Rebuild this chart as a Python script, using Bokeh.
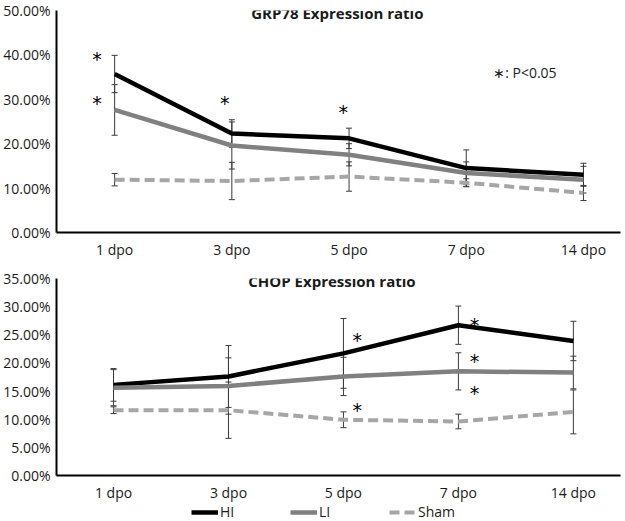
from bokeh.plotting import figure
from bokeh.layouts import column
from bokeh.models import (ColumnDataSource, Whisker, Legend, LegendItem, Label,
                          FixedTicker, Range1d, CustomJSTickFormatter)
from bokeh.core.properties import value
from bokeh.embed import file_html
from bokeh.resources import INLINE

categories = ["1 dpo", "3 dpo", "5 dpo", "7 dpo", "14 dpo"]

grp_yticks = [0, 10, 20, 30, 40, 50]
grp_ytick_labels = ["0.00%", "10.00%", "20.00%", "30.00%", "40.00%", "50.00%"]
grp_hi = [35.7, 22.3, 21.2, 14.5, 13.0]
grp_li = [27.6, 19.6, 17.5, 13.4, 11.9]
grp_sham = [11.9, 11.6, 12.6, 11.2, 8.9]
grp_hi_err = [4.2, 3.1, 2.3, 4.1, 2.6]
grp_li_err = [5.7, 5.3, 2.5, 2.5, 3.0]
grp_sham_err = [1.4, 4.2, 3.3, 0.9, 1.7]
grp_sig_cat = [0, 0, 1, 2]
grp_sig_shift = [-0.15, -0.15, -0.06, -0.05]
grp_sig_y = [40.3, 30.2, 30.4, 28.3]

chop_yticks = [0, 5, 10, 15, 20, 25, 30, 35]
chop_ytick_labels = ["0.00%", "5.00%", "10.00%", "15.00%", "20.00%", "25.00%",
                     "30.00%", "35.00%"]
chop_hi = [16.1, 17.6, 21.7, 26.7, 23.9]
chop_li = [15.6, 15.9, 17.6, 18.5, 18.3]
chop_sham = [11.6, 11.6, 9.9, 9.6, 11.3]
chop_hi_err = [2.9, 5.5, 6.2, 3.4, 3.5]
chop_li_err = [3.2, 5.0, 3.4, 3.3, 2.9]
chop_sham_err = [0.6, 5.0, 1.4, 1.3, 3.9]
chop_sig_cat = [2, 2, 3, 3, 3]
chop_sig_shift = [0.12, 0.12, 0.14, 0.14, 0.14]
chop_sig_y = [24.9, 12.6, 27.7, 21.3, 15.5]

series_names = ["HI", "LI", "Sham"]
FONT = "Open Sans"
TXT = "#1a1a1a"
STYLES = [dict(color="black", line_width=4.5, line_dash="solid"),
          dict(color="#808080", line_width=4.5, line_dash="solid"),
          dict(color="#a6a6a6", line_width=4, line_dash="10 5")]


def make_panel(title, hi, li, sham, errs, yticks, ylabels, sig_cat, sig_shift, sig_y,
               height, border_top, border_bottom, x_end, note=None):
    xs = list(range(len(categories)))
    ymax = yticks[-1]
    p = figure(width=625, height=height, output_backend="svg", toolbar_location=None,
               x_range=Range1d(-0.496, x_end), y_range=Range1d(0, ymax),
               min_border_left=49, min_border_right=5, min_border_top=border_top,
               min_border_bottom=border_bottom)
    p.outline_line_color = None
    p.grid.grid_line_color = None

    p.xaxis.ticker = FixedTicker(ticks=xs)
    p.xaxis.formatter = CustomJSTickFormatter(args=dict(cats=categories),
                                              code="return cats[Math.round(tick)];")
    p.yaxis.ticker = FixedTicker(ticks=yticks)
    p.yaxis.formatter = CustomJSTickFormatter(
        args=dict(yt=yticks, yl=ylabels),
        code="const i = yt.findIndex(t => Math.abs(t - tick) < 1e-6); "
             "return i >= 0 ? yl[i] : '';")
    for ax in (p.xaxis[0], p.yaxis[0]):
        ax.major_tick_line_color = None
        ax.minor_tick_line_color = None
        ax.major_tick_out = 0
        ax.major_tick_in = 0
        ax.axis_line_color = "black"
        ax.axis_line_width = 2
        ax.major_label_text_font = FONT
        ax.major_label_text_font_size = "14px"
        ax.major_label_text_color = TXT
    p.xaxis.major_label_standoff = 7
    p.yaxis.major_label_standoff = 6

    for vals, st in zip((hi, li, sham), STYLES):
        p.line(xs, vals, line_color=st["color"], line_width=st["line_width"],
               line_dash=st["line_dash"])

    for vals, err in zip((hi, li, sham), errs):
        src = ColumnDataSource(dict(x=xs, up=[v + e for v, e in zip(vals, err)],
                                    lo=[v - e for v, e in zip(vals, err)]))
        w = Whisker(base="x", upper="up", lower="lo", source=src,
                    line_color="#3a3a3a", line_width=1)
        w.upper_head.size = 6
        w.lower_head.size = 6
        w.upper_head.line_color = "#3a3a3a"
        w.lower_head.line_color = "#3a3a3a"
        p.add_layout(w)

    sx = [c + s for c, s in zip(sig_cat, sig_shift)]
    sig_src = ColumnDataSource(dict(x=sx, y=sig_y, t=["*"] * len(sx)))
    p.text(x="x", y="y", text="t", source=sig_src, text_font=value("DejaVu Sans"),
           text_font_size="19px", text_align="center", text_baseline="middle",
           y_offset=5, text_color="black")

    p.add_layout(Label(x=1.9, y=ymax, text=title, text_font=FONT, text_font_size="15px",
                       text_font_style="bold", text_align="center", text_baseline="middle",
                       y_offset=-2, text_color=TXT))
    if note:
        p.add_layout(Label(x=3.5, y=note, text="\u2217: P<0.05", text_font=FONT,
                           text_font_size="14px", text_align="center",
                           text_baseline="middle", text_color=TXT))
    return p


p1 = make_panel("GRP78 Expression ratio", grp_hi, grp_li, grp_sham,
                (grp_hi_err, grp_li_err, grp_sham_err), grp_yticks, grp_ytick_labels,
                grp_sig_cat, grp_sig_shift, grp_sig_y, 264, 10, 32, 4.316, note=36)
p2 = make_panel("CHOP Expression ratio", chop_hi, chop_li, chop_sham,
                (chop_hi_err, chop_li_err, chop_sham_err), chop_yticks, chop_ytick_labels,
                chop_sig_cat, chop_sig_shift, chop_sig_y, 240, 14, 25, 4.41)

# legend strip: proxy lines use the CHOP series, kept outside the strip's visible range
pl = figure(width=625, height=17, output_backend="svg", toolbar_location=None,
            x_range=Range1d(0, 1), y_range=Range1d(-1, 0), min_border=0)
pl.axis.visible = False
pl.grid.grid_line_color = None
pl.outline_line_color = None
leg_renderers = [pl.line(list(range(len(categories))), vals, line_color=st["color"],
                         line_width=st["line_width"], line_dash=st["line_dash"])
                 for vals, st in zip((chop_hi, chop_li, chop_sham), STYLES)]
items = [LegendItem(label=n, renderers=[r]) for n, r in zip(series_names, leg_renderers)]
leg = Legend(items=items, orientation="horizontal", location=(135, 0),
             glyph_width=27, glyph_height=14, label_standoff=2, spacing=50,
             label_text_font=FONT, label_text_font_size="14px",
             label_height=14, label_text_baseline="middle",
             label_text_color=TXT, border_line_color=None,
             background_fill_alpha=0, padding=0, margin=0)
pl.add_layout(leg)

layout = column(p1, p2, pl)
open("out.html", "w").write(file_html(layout, INLINE))
